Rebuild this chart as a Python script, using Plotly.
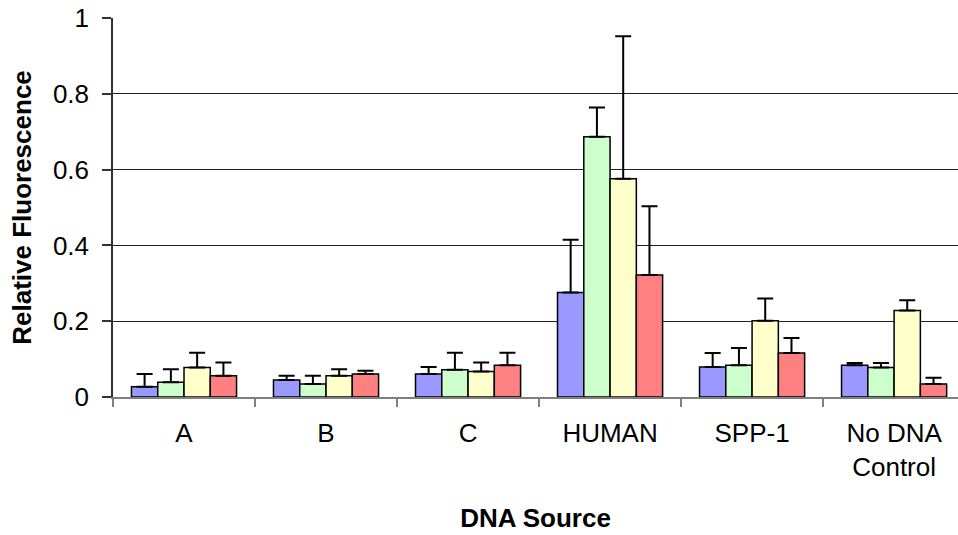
import plotly.graph_objects as go

# DNA sources on the x axis
categories = ["A", "B", "C", "HUMAN", "SPP-1", "No DNA<br>Control"]

# Mean relative fluorescence for each of the four series
series_1 = [0.027, 0.045, 0.061, 0.276, 0.079, 0.084]
series_2 = [0.039, 0.034, 0.072, 0.687, 0.084, 0.078]
series_3 = [0.078, 0.056, 0.067, 0.576, 0.201, 0.228]
series_4 = [0.056, 0.061, 0.084, 0.322, 0.116, 0.034]

# Upper error (standard deviation) for each series
error_1 = [0.034, 0.011, 0.018, 0.139, 0.037, 0.006]
error_2 = [0.034, 0.022, 0.045, 0.077, 0.045, 0.012]
error_3 = [0.039, 0.017, 0.024, 0.376, 0.059, 0.027]
error_4 = [0.035, 0.008, 0.033, 0.181, 0.040, 0.017]

y_ticks = [0, 0.2, 0.4, 0.6, 0.8, 1]
y_tick_text = ["0", "0.2", "0.4", "0.6", "0.8", "1"]

series_names = ["Series 1", "Series 2", "Series 3", "Series 4"]
series_values = [series_1, series_2, series_3, series_4]
series_errors = [error_1, error_2, error_3, error_4]
colors = ["#9999FF", "#CCFFCC", "#FFFFCC", "#FF8080"]

FONT = "Liberation Sans, Arial, sans-serif"

fig = go.Figure()
for name, vals, errs, col in zip(series_names, series_values, series_errors, colors):
    fig.add_trace(go.Bar(
        name=name,
        x=categories,
        y=vals,
        marker=dict(color=col, line=dict(color="#000000", width=1.5)),
        error_y=dict(type="data", array=errs, symmetric=False,
                     arrayminus=[0] * len(errs),
                     color="#000000", thickness=2, width=8),
        showlegend=False,
    ))

fig.update_layout(
    width=958, height=535,
    margin=dict(l=113, r=0, t=18, b=138),
    paper_bgcolor="white", plot_bgcolor="white",
    barmode="group", bargap=0.26, bargroupgap=0,
    font=dict(family=FONT, size=26, color="#000000"),
    xaxis=dict(
        type="category",
        range=[-0.5, 5.45],
        showline=True, linecolor="#808080", linewidth=1.5,
        ticks="outside", tickson="boundaries", ticklen=8,
        tickcolor="#808080", tickwidth=1.5,
        ticklabelstandoff=12,
        showgrid=False,
        tickfont=dict(family=FONT, size=26),
        title=dict(text="<b>DNA Source</b>", font=dict(family=FONT, size=26),
                   standoff=28),
    ),
    yaxis=dict(
        range=[0, 1],
        tickvals=y_ticks, ticktext=y_tick_text,
        showline=True, linecolor="#333333", linewidth=1.5,
        ticks="outside", ticklen=9, tickcolor="#333333", tickwidth=1.5,
        ticklabelstandoff=8,
        showgrid=True, gridcolor="#222222", gridwidth=1,
        zeroline=False,
        tickfont=dict(family=FONT, size=26),
        title=dict(text="<b>Relative Fluorescence</b>", font=dict(family=FONT, size=26),
                   standoff=14),
    ),
)

fig.write_html("out.html")
